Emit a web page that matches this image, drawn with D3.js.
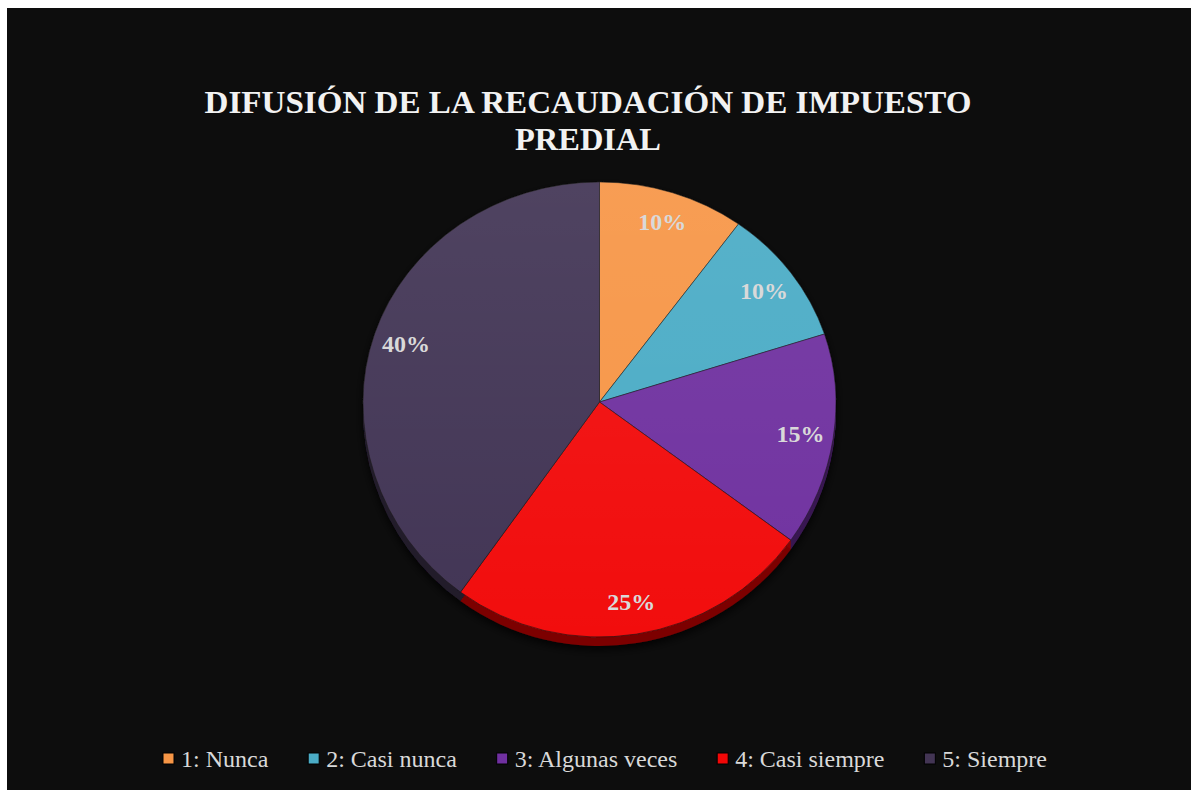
<!DOCTYPE html>
<html>
<head>
<meta charset="utf-8">
<script src="https://cdn.jsdelivr.net/npm/d3@7"></script>
<style>
  html, body { margin: 0; padding: 0; background: #ffffff; }
  svg { display: block; }
</style>
</head>
<body>
<svg id="chart" width="1191" height="790"></svg>
<script>
'use strict';

// chart data
const CATEGORIES = ['1: Nunca', '2: Casi nunca', '3: Algunas veces', '4: Casi siempre', '5: Siempre'];
const VALUES = [10, 10, 15, 25, 40];
const LABELS = ['10%', '10%', '15%', '25%', '40%'];
const TITLE_LINES = ['DIFUSIÓN DE LA RECAUDACIÓN DE IMPUESTO', 'PREDIAL'];

const PALETTE = ['#f79646', '#4bacc6', '#7030a0', '#f20707', '#433554'];

window.addEventListener('DOMContentLoaded', () => {
    const svg = d3.select('#chart');
    const W = 1191, H = 790;

    // background panel
    svg.append('rect').attr('x', 7).attr('y', 8).attr('width', W - 7).attr('height', H - 8)
        .attr('fill', '#0d0d0d');

    const defs = svg.append('defs');
    const sheen = defs.append('linearGradient').attr('id', 'sheen')
        .attr('gradientUnits', 'userSpaceOnUse')
        .attr('x1', 0).attr('y1', 182).attr('x2', 0).attr('y2', 640);
    sheen.append('stop').attr('offset', '0%').attr('stop-color', '#ffffff').attr('stop-opacity', 0.07);
    sheen.append('stop').attr('offset', '100%').attr('stop-color', '#ffffff').attr('stop-opacity', 0);

    const shadow = defs.append('filter').attr('id', 'shadow')
        .attr('x', '-10%').attr('y', '-10%').attr('width', '120%').attr('height', '125%');
    shadow.append('feDropShadow').attr('dx', 0).attr('dy', 4).attr('stdDeviation', 4)
        .attr('flood-color', '#000').attr('flood-opacity', 0.8);

    // pie geometry (slightly tilted: the lower half is taller than the upper half)
    const cx = 599.5, cy = 402, rx = 236.5, ryTop = 220, ryBot = 235, depth = 9;
    const kTop = ryTop / rx, kBot = ryBot / rx;

    defs.append('clipPath').attr('id', 'clipTop')
        .append('rect').attr('x', 0).attr('y', 0).attr('width', W).attr('height', cy);
    defs.append('clipPath').attr('id', 'clipBot')
        .append('rect').attr('x', 0).attr('y', cy).attr('width', W).attr('height', H - cy);

    // title
    const title = svg.append('g').attr('fill', '#f2f2f2')
        .attr('font-family', '"Liberation Serif", "DejaVu Serif", serif')
        .attr('font-weight', 'bold').attr('font-size', 31).attr('text-anchor', 'middle');
    const titleWidths = [767, 146];
    TITLE_LINES.forEach((t, i) => {
        title.append('text').attr('x', 588).attr('y', 113 + i * 37)
            .attr('textLength', titleWidths[i]).attr('lengthAdjust', 'spacingAndGlyphs')
            .text(t);
    });

    const pie = d3.pie().sort(null).value((d) => d)(VALUES);
    const arc = d3.arc().innerRadius(0).outerRadius(rx);
    const labelArc = d3.arc().innerRadius(rx * 0.86).outerRadius(rx * 0.86);

    const pieG = svg.append('g').attr('filter', 'url(#shadow)');

    // side (depth) of the 3D pie, only visible below the centre
    const band = pieG.append('g').attr('clip-path', 'url(#clipBot)')
        .append('g').attr('transform', `translate(${cx},${cy}) scale(1,${kBot})`);
    pie.forEach((d, i) => {
        for (let s = 1; s <= depth; s++) {
            band.append('path').attr('d', arc(d))
                .attr('transform', `translate(0,${s / kBot})`)
                .attr('fill', d3.color(PALETTE[i]).darker(s === depth ? 1.9 : 1.5));
        }
    });

    // top faces, drawn as two halves
    [['clipTop', kTop], ['clipBot', kBot]].forEach(([clip, k]) => {
        const face = pieG.append('g').attr('clip-path', `url(#${clip})`)
            .append('g').attr('transform', `translate(${cx},${cy}) scale(1,${k})`);
        face.selectAll('path.slice').data(pie).join('path').attr('class', 'slice')
            .attr('d', arc)
            .attr('fill', (d, i) => PALETTE[i])
            .attr('stroke', '#1a1a1a').attr('stroke-opacity', 0.7).attr('stroke-width', 0.8);
    });
    // light sheen over the face
    const sheenG = svg.append('g');
    [['clipTop', kTop], ['clipBot', kBot]].forEach(([clip, k]) => {
        sheenG.append('g').attr('clip-path', `url(#${clip})`)
            .append('ellipse').attr('cx', cx).attr('cy', cy).attr('rx', rx).attr('ry', rx * k)
            .attr('fill', 'url(#sheen)');
    });

    // percent labels
    svg.append('g').attr('fill', '#d9d9d9')
        .attr('font-family', '"Liberation Serif", "DejaVu Serif", serif')
        .attr('font-weight', 'bold').attr('font-size', 24).attr('text-anchor', 'middle')
        .selectAll('text').data(pie).join('text')
        .attr('x', (d) => cx + labelArc.centroid(d)[0])
        .attr('y', (d) => {
            const yy = labelArc.centroid(d)[1];
            return cy + yy * (yy < 0 ? kTop : kBot) + 8;
        })
        .text((d, i) => LABELS[i]);

    // legend
    const legend = svg.append('g')
        .attr('font-family', '"Liberation Serif", "DejaVu Serif", serif')
        .attr('font-size', 24).attr('fill', '#d9d9d9');
    const items = legend.selectAll('g').data(CATEGORIES).join('g');
    items.append('rect').attr('width', 11).attr('height', 11).attr('y', -14)
        .attr('fill', (d, i) => PALETTE[i]).attr('stroke', '#000').attr('stroke-width', 1);
    items.append('text').attr('x', 18).attr('y', 0).text((d) => d);

    const widths = [];
    items.each(function () {
        widths.push(18 + this.querySelector('text').getComputedTextLength());
    });
    const legendLeft = 163, legendRight = 1047;
    const gap = (legendRight - legendLeft - d3.sum(widths)) / (widths.length - 1);
    let x = legendLeft;
    const offsets = widths.map((w) => { const o = x; x += w + gap; return o; });
    items.attr('transform', (d, i) => `translate(${offsets[i]},767)`);
});
</script>
</body>
</html>
